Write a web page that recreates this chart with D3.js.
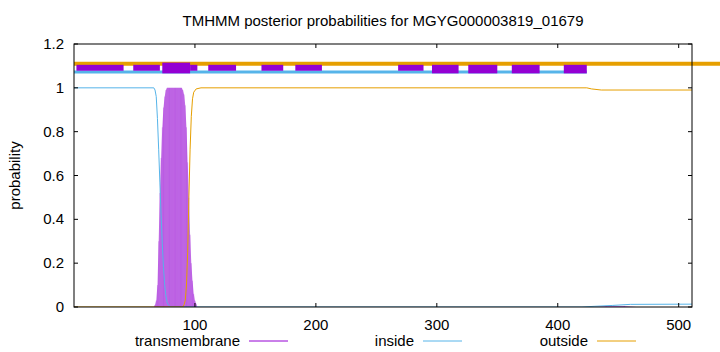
<!DOCTYPE html>
<html>
<head>
<meta charset="utf-8">
<script src="https://cdn.jsdelivr.net/npm/d3@7"></script>
<style>
  body { margin: 0; background: #fff; }
  text { font-family: "Liberation Sans", Arial, sans-serif; fill: #000; }
</style>
</head>
<body>
<div id="chart"></div>
<script>
// chart data
var title = "TMHMM posterior probabilities for MGYG000003819_01679";
var seqLength = 511;
var xTicks = [100, 200, 300, 400, 500];
var yTicks = [0, 0.2, 0.4, 0.6, 0.8, 1, 1.2];
var legendNames = ["transmembrane", "inside", "outside"];

// posterior curves: residue position / probability
var insidePos = [0, 66, 67, 68, 69, 70, 71, 72, 73, 74, 75, 76, 77, 78, 80, 120, 420, 430, 445, 460, 511];
var insideVal = [1, 1, 0.99, 0.96, 0.86, 0.72, 0.57, 0.42, 0.29, 0.18, 0.1, 0.05, 0.02, 0.01, 0, 0, 0, 0.003, 0.007, 0.012, 0.013];

var outsidePos = [0, 90, 91, 92, 93, 94, 95, 96, 97, 98, 99, 101, 105, 424, 428, 436, 511];
var outsideVal = [0, 0, 0.01, 0.03, 0.1, 0.25, 0.5, 0.72, 0.87, 0.95, 0.98, 0.995, 1, 1, 0.995, 0.99, 0.99];

var tmPos = [0, 66, 67, 68, 69, 70, 71, 72, 73, 74, 75, 76, 77, 78, 79, 80, 81, 82, 83, 84, 85, 86, 87, 88, 89, 90, 91, 92, 93, 94, 95, 96, 97, 98, 99, 100, 101, 102, 430, 440, 455, 465, 511];
var tmVal = [0, 0, 0.01, 0.03, 0.1, 0.3, 0.52, 0.68, 0.82, 0.91, 0.96, 0.99, 1, 1, 1, 1, 1, 1, 1, 1, 1, 1, 1, 1, 1, 0.99, 0.97, 0.92, 0.82, 0.66, 0.5, 0.33, 0.2, 0.12, 0.06, 0.03, 0.015, 0, 0, 0.005, 0.005, 0, 0];

// predicted topology bars at the top: [start, end] in residues
var outsideBar = [[0, 560]];
var insideBar = [[0, 424]];
var tmBoxesUpper = [[2, 41], [49, 71], [96, 102], [111, 134], [155, 173], [183, 205], [268, 289]];
var tmBoxesLower = [[296, 318], [326, 350], [362, 385], [405, 424]];
var tmHelix = [[73, 96]];

var width = 720, height = 352;
var margin = {left: 74, right: 28, top: 44, bottom: 45};
var fs = 15;

var svg = d3.select("#chart").append("svg")
  .attr("width", width)
  .attr("height", height);

var x = d3.scaleLinear().domain([0, seqLength]).range([margin.left, width - margin.right]);
var y = d3.scaleLinear().domain([0, 1.2]).range([height - margin.bottom, margin.top]);

var colTM = "#9400d3", colIn = "#56b4e9", colOut = "#e69f00";

// clip for the curves
svg.append("clipPath").attr("id", "plotclip")
  .append("rect")
  .attr("x", x(0)).attr("y", y(1.2))
  .attr("width", x(seqLength) - x(0)).attr("height", y(0) - y(1.2));

var plot = svg.append("g").attr("clip-path", "url(#plotclip)");

function pairs(pos, val) {
  return pos.map(function(p, i) { return [p, val[i]]; });
}

// transmembrane: filled area plus impulses
var tmData = pairs(tmPos, tmVal);
plot.append("path")
  .datum(tmData)
  .attr("fill", colTM)
  .attr("fill-opacity", 0.5)
  .attr("d", d3.area().x(function(d) { return x(d[0]); }).y0(y(0)).y1(function(d) { return y(d[1]); }));

plot.selectAll(".imp")
  .data(tmData.filter(function(d) { return d[1] > 0; }))
  .enter().append("line")
  .attr("x1", function(d) { return x(d[0]); })
  .attr("x2", function(d) { return x(d[0]); })
  .attr("y1", y(0))
  .attr("y2", function(d) { return y(d[1]); })
  .attr("stroke", colTM)
  .attr("stroke-opacity", 0.35)
  .attr("stroke-width", 0.8);

var line = d3.line().x(function(d) { return x(d[0]); }).y(function(d) { return y(d[1]); });

plot.append("path").datum(pairs(insidePos, insideVal))
  .attr("fill", "none").attr("stroke", colIn).attr("stroke-width", 1).attr("d", line);
plot.append("path").datum(pairs(outsidePos, outsideVal))
  .attr("fill", "none").attr("stroke", colOut).attr("stroke-width", 1).attr("d", line);

// top topology bars (not clipped on the right, like the original)
var topG = svg.append("g");

topG.selectAll(".inbar").data(insideBar).enter().append("line")
  .attr("x1", function(d) { return x(d[0]); })
  .attr("x2", function(d) { return x(d[1]); })
  .attr("y1", y(1.072)).attr("y2", y(1.072))
  .attr("stroke", colIn).attr("stroke-width", 3);

topG.selectAll(".outbar").data(outsideBar).enter().append("line")
  .attr("x1", function(d) { return x(d[0]); })
  .attr("x2", function(d) { return x(d[1]); })
  .attr("y1", y(1.11)).attr("y2", y(1.11))
  .attr("stroke", colOut).attr("stroke-width", 4);

function boxes(data, hi, lo) {
  topG.selectAll(null).data(data).enter().append("rect")
    .attr("x", function(d) { return x(d[0]); })
    .attr("width", function(d) { return x(d[1]) - x(d[0]); })
    .attr("y", y(hi))
    .attr("height", y(lo) - y(hi))
    .attr("fill", colTM);
}
boxes(tmBoxesUpper, 1.105, 1.078);
boxes(tmBoxesLower, 1.105, 1.066);
boxes(tmHelix, 1.115, 1.066);

// frame
svg.append("rect")
  .attr("x", x(0)).attr("y", y(1.2))
  .attr("width", x(seqLength) - x(0)).attr("height", y(0) - y(1.2))
  .attr("fill", "none").attr("stroke", "#000").attr("stroke-width", 1);

// ticks
var tk = 4;
xTicks.forEach(function(t) {
  svg.append("line").attr("x1", x(t)).attr("x2", x(t)).attr("y1", y(0)).attr("y2", y(0) - tk).attr("stroke", "#000");
  svg.append("line").attr("x1", x(t)).attr("x2", x(t)).attr("y1", y(1.2)).attr("y2", y(1.2) + tk).attr("stroke", "#000");
  svg.append("text").attr("x", x(t)).attr("y", y(0) + 23)
    .attr("text-anchor", "middle").attr("font-size", fs).text(t);
});
yTicks.forEach(function(t) {
  svg.append("line").attr("x1", x(0)).attr("x2", x(0) + tk).attr("y1", y(t)).attr("y2", y(t)).attr("stroke", "#000");
  svg.append("line").attr("x1", x(seqLength)).attr("x2", x(seqLength) - tk).attr("y1", y(t)).attr("y2", y(t)).attr("stroke", "#000");
  svg.append("text").attr("x", x(0) - 10).attr("y", y(t) + 5)
    .attr("text-anchor", "end").attr("font-size", fs).text(d3.format("")(t));
});

// title and axis label
svg.append("text").attr("x", (x(0) + x(seqLength)) / 2).attr("y", 26)
  .attr("text-anchor", "middle").attr("font-size", fs).text(title);
svg.append("text")
  .attr("transform", "translate(20," + ((y(0) + y(1.2)) / 2) + ") rotate(-90)")
  .attr("text-anchor", "middle").attr("font-size", fs).text("probability");

// legend
var legendEnds = [240, 414, 588];
var legendCols = [colTM, colIn, colOut];
legendNames.forEach(function(name, i) {
  svg.append("text").attr("x", legendEnds[i]).attr("y", 346)
    .attr("text-anchor", "end").attr("font-size", fs).text(name);
  svg.append("line")
    .attr("x1", legendEnds[i] + 9).attr("x2", legendEnds[i] + 48)
    .attr("y1", 341).attr("y2", 341)
    .attr("stroke", legendCols[i]).attr("stroke-width", 1);
});
</script>
</body>
</html>
